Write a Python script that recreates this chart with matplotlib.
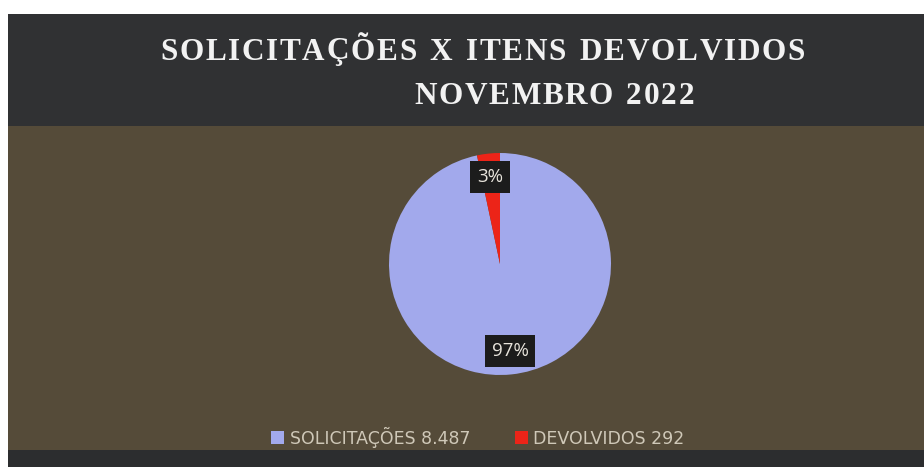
import matplotlib
matplotlib.use("Agg")
import matplotlib.pyplot as plt
from matplotlib.patches import Rectangle

title_lines = ["SOLICITAÇÕES X ITENS DEVOLVIDOS", "NOVEMBRO 2022"]
categories = ["SOLICITAÇÕES", "DEVOLVIDOS"]
values = [8487, 292]
legend_labels = ["SOLICITAÇÕES 8.487", "DEVOLVIDOS 292"]
colors = ["#a2a9ec", "#ec2418"]

W, H = 924, 467
fig = plt.figure(figsize=(W / 100, H / 100), dpi=100)
fig.patch.set_facecolor("white")

def fy(y):
    return 1 - y / H

def fx(x):
    return x / W

# panels
fig.add_artist(Rectangle((fx(8), fy(126)), 1 - fx(8), fy(14) - fy(126),
                         transform=fig.transFigure, facecolor="#303133", edgecolor="none", zorder=0))
fig.add_artist(Rectangle((fx(8), fy(450)), 1 - fx(8), fy(126) - fy(450),
                         transform=fig.transFigure, facecolor="#554b39", edgecolor="none", zorder=0))
fig.add_artist(Rectangle((fx(8), 0), 1 - fx(8), fy(450),
                         transform=fig.transFigure, facecolor="#2c2d2f", edgecolor="none", zorder=0))

renderer = fig.canvas.get_renderer()

def tracked_text(s, x0, x1, yc, **kw):
    """Place string s spread between pixel x0 and x1 (letter-spaced)."""
    widths = []
    for ch in s:
        t = fig.text(0, 0, ch if ch != " " else "n", **kw)
        bb = t.get_window_extent(renderer)
        widths.append(bb.width * (0.55 if ch == " " else 1.0))
        t.remove()
    total = sum(widths)
    track = (x1 - x0 - total) / (len(s) - 1)
    x = x0
    for ch, w in zip(s, widths):
        if ch != " ":
            fig.text(fx(x), fy(yc), ch, ha="left", va="center", **kw)
        x += w + track

tkw = dict(color="#f2f2f2", fontsize=22.5, fontweight="bold", family="Liberation Serif")
tracked_text(title_lines[0], 160, 805, 52, **tkw)
tracked_text(title_lines[1], 414, 694, 97, **tkw)

# pie
cx, cy, r = 500, 264, 111
ax = fig.add_axes([fx(cx - r), fy(cy + r), 2 * r / W, 2 * r / H])
ax.set_facecolor("none")
total = sum(values)
wedges, _ = ax.pie(values, colors=colors, startangle=90, counterclock=False,
                   radius=1.0, wedgeprops=dict(linewidth=0))
ax.set_xlim(-1, 1)
ax.set_ylim(-1, 1)
ax.set_aspect("auto")
ax.axis("off")

box = dict(boxstyle="square,pad=0.35", facecolor="#1c1c1c", edgecolor="none")
pcts = [f"{round(v / total * 100)}%" for v in values]
ax.text((510 - cx) / r, (cy - 351) / r, pcts[0], ha="center", va="center",
        color="#e8e4dc", fontsize=13.5, family="Open Sans", bbox=box)
ax.text((490 - cx) / r, (cy - 177) / r, pcts[1], ha="center", va="center",
        color="#e8e4dc", fontsize=13.5, family="Open Sans", bbox=box)

# legend
leg = fig.legend(wedges, legend_labels, loc="center", bbox_to_anchor=(fx(478), fy(437)),
                 ncol=2, frameon=False, handlelength=0.75, handleheight=0.75,
                 handletextpad=0.3, columnspacing=2.6, labelcolor="#cfc8b8",
                 prop=dict(family="DejaVu Sans", size=12.5))

fig.savefig("out.png", dpi=100)
